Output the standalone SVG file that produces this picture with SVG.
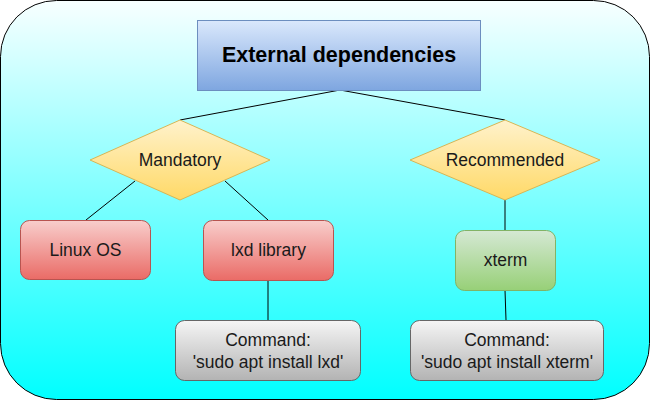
<svg xmlns="http://www.w3.org/2000/svg" width="651" height="401" viewBox="0 0 651 401">
<defs>
<linearGradient id="gBg" x1="0" y1="0" x2="0" y2="1"><stop offset="0" stop-color="#f8ffff"/><stop offset="1" stop-color="#00ffff"/></linearGradient>
<linearGradient id="gBlue" x1="0" y1="0" x2="0" y2="1"><stop offset="0" stop-color="#dae8fc"/><stop offset="1" stop-color="#7ea6e0"/></linearGradient>
<linearGradient id="gYel" x1="0" y1="0" x2="0" y2="1"><stop offset="0" stop-color="#fff2cc"/><stop offset="1" stop-color="#ffd966"/></linearGradient>
<linearGradient id="gRed" x1="0" y1="0" x2="0" y2="1"><stop offset="0" stop-color="#f8cecc"/><stop offset="1" stop-color="#ea6b66"/></linearGradient>
<linearGradient id="gGrn" x1="0" y1="0" x2="0" y2="1"><stop offset="0" stop-color="#d5e8d4"/><stop offset="1" stop-color="#97d077"/></linearGradient>
<linearGradient id="gGry" x1="0" y1="0" x2="0" y2="1"><stop offset="0" stop-color="#f5f5f5"/><stop offset="1" stop-color="#b3b3b3"/></linearGradient>
</defs>
<style>
text{font-family:"Liberation Sans",Arial,sans-serif;font-size:17.5px;fill:#1a1a1a;text-anchor:middle;dominant-baseline:central}
.title{font-weight:bold;font-size:21.5px;fill:#000}
.edge{stroke:#000;stroke-width:1;fill:none}
.red{fill:url(#gRed);stroke:#b85450}
.yel{fill:url(#gYel);stroke:#d6b656}
.grn{fill:url(#gGrn);stroke:#82b366}
.gry{fill:url(#gGry);stroke:#666666}
</style>
<g id="container"><rect x="0.5" y="0.5" width="649" height="399" rx="56" ry="56" fill="url(#gBg)" stroke="#000"/></g>
<g id="connectors">
<path class="edge" d="M340 90 L180 120"/>
<path class="edge" d="M340 90 L505 120"/>
<path class="edge" d="M135 181 L86 220"/>
<path class="edge" d="M225 181 L268 220"/>
<path class="edge" d="M268 280 L268 320"/>
<path class="edge" d="M505 200 L505 230"/>
<path class="edge" d="M505 290 L506 320"/>
</g>
<g id="title"><rect x="197.5" y="20.5" width="283" height="70" fill="url(#gBlue)" stroke="#6c8ebf"/><text class="title" x="339" y="55">External dependencies</text></g>
<g id="mandatory"><polygon class="yel" points="180,120 270,160 180,200 90,160"/><text x="180" y="160">Mandatory</text></g>
<g id="recommended"><polygon class="yel" points="505,120 600,160 505,200 410,160"/><text x="505" y="160">Recommended</text></g>
<g id="linux"><rect class="red" x="20.5" y="220.5" width="130" height="59" rx="9"/><text x="85.5" y="250">Linux OS</text></g>
<g id="lxd"><rect class="red" x="203.5" y="220.5" width="130" height="60" rx="9"/><text x="268.5" y="250">lxd library</text></g>
<g id="xterm"><rect class="grn" x="455.5" y="230.5" width="100" height="60" rx="9"/><text x="505.5" y="260">xterm</text></g>
<g id="cmd-lxd"><rect class="gry" x="175.5" y="320.5" width="185" height="60" rx="9"/><text x="268" y="340">Command:</text><text x="268" y="361.5">'sudo apt install lxd'</text></g>
<g id="cmd-xterm"><rect class="gry" x="410.5" y="320.5" width="193" height="60" rx="9"/><text x="507" y="340">Command:</text><text x="507" y="361.5">'sudo apt install xterm'</text></g>
</svg>
